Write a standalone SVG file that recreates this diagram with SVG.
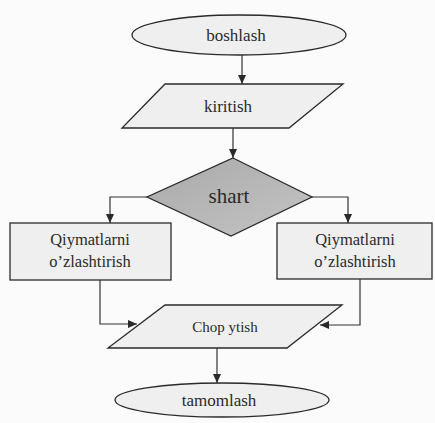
<svg xmlns="http://www.w3.org/2000/svg" width="435" height="423" viewBox="0 0 435 423">
<defs>
<marker id="arr" markerWidth="10" markerHeight="10" refX="9" refY="5" orient="auto" markerUnits="userSpaceOnUse">
<path d="M0,1 L9,5 L0,9 Z" fill="#2a2a2a"/>
</marker>
<linearGradient id="dg" x1="0" y1="0" x2="1" y2="1">
<stop offset="0" stop-color="#a9a9a9"/>
<stop offset="1" stop-color="#c4c4c4"/>
</linearGradient>
</defs>
<style>
.sh{fill:#efefef;stroke:#2a2a2a;stroke-width:1.3}
.t{font-family:"Liberation Serif","Times New Roman",serif;fill:#2a2a2a;text-anchor:middle}
.c{fill:none;stroke:#333;stroke-width:1.2}
</style>
<rect width="435" height="423" fill="#fbfbfb"/>
<g id="n-start">
<ellipse class="sh" cx="239" cy="35" rx="107" ry="20"/>
<text class="t" x="236" y="41" font-size="17">boshlash</text>
</g>
<g id="n-input">
<polygon class="sh" points="165,84 343,84 289,128 122,128"/>
<text class="t" x="228" y="112" font-size="17">kiritish</text>
</g>
<g id="n-cond">
<polygon points="233,158 312,197 231,236 147,197" fill="url(#dg)" stroke="#2a2a2a" stroke-width="1.3"/>
<text class="t" x="229" y="203" font-size="21">shart</text>
</g>
<g id="n-left">
<rect class="sh" x="10" y="223" width="161" height="57"/>
<text class="t" x="90" y="245" font-size="16.5">Qiymatlarni</text>
<text class="t" x="90" y="267" font-size="16.5">o’zlashtirish</text>
</g>
<g id="n-right">
<rect class="sh" x="277" y="223" width="155" height="56"/>
<text class="t" x="355" y="245" font-size="16.5">Qiymatlarni</text>
<text class="t" x="355" y="267" font-size="16.5">o’zlashtirish</text>
</g>
<g id="n-print">
<polygon class="sh" points="165,305 342,305 287,348 108,348"/>
<text class="t" x="225" y="332" font-size="15">Chop ytish</text>
</g>
<g id="n-end">
<ellipse class="sh" cx="222" cy="400" rx="107" ry="17"/>
<text class="t" x="219" y="406" font-size="17">tamomlash</text>
</g>
<g id="connectors">
<path class="c" d="M242,55 V84" marker-end="url(#arr)"/>
<path class="c" d="M233,128 V158" marker-end="url(#arr)"/>
<path class="c" d="M147,197 H110 V223" marker-end="url(#arr)"/>
<path class="c" d="M312,197 H348 V223" marker-end="url(#arr)"/>
<path class="c" d="M100,280 V324 H137" marker-end="url(#arr)"/>
<path class="c" d="M360,279 V325 H320" marker-end="url(#arr)"/>
<path class="c" d="M217,348 V383" marker-end="url(#arr)"/>
</g>
</svg>
